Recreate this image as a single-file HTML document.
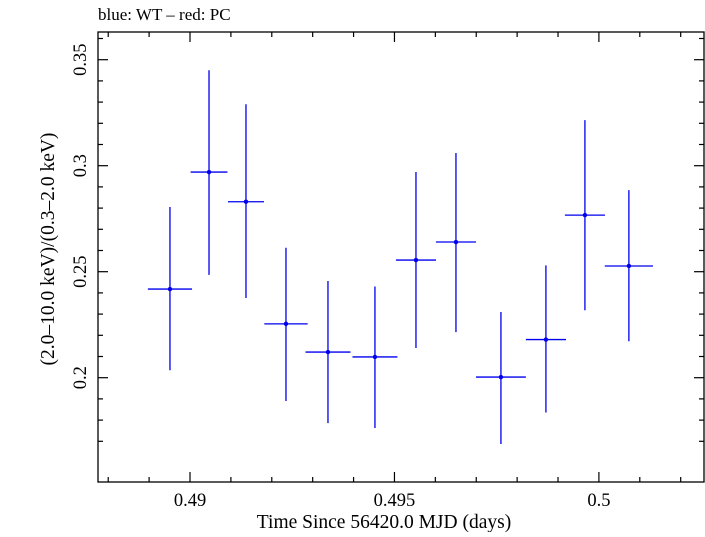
<!DOCTYPE html>
<html><head><meta charset="utf-8"><style>
html,body{margin:0;padding:0;background:#fff;}
svg text{font-family:"Liberation Serif",serif;fill:#000;}
</style></head><body>
<svg id="chart" width="705" height="532" xmlns="http://www.w3.org/2000/svg">
<text x="98" y="20" font-size="17">blue: WT – red: PC</text>
<rect x="98" y="32" width="606" height="450" fill="none" stroke="#000" stroke-width="1.3"/>
<g id="ticks"></g>
<g id="marks"></g>
<text x="384" y="528" font-size="19.5" text-anchor="middle">Time Since 56420.0 MJD (days)</text>
<text transform="translate(54,249) rotate(-90)" font-size="19.5" text-anchor="middle">(2.0–10.0 keV)/(0.3–2.0 keV)</text>
</svg>
<script>
const times=[0.48951,0.490465,0.491369,0.492347,0.493374,0.494523,0.495526,0.496504,0.497604,0.498704,0.499658,0.500733];
const timeHalfWidths=[0.00054,0.00045,0.00044,0.00053,0.00055,0.00055,0.00049,0.00049,0.00061,0.00049,0.00049,0.00059];
const ratios=[0.2418,0.297,0.283,0.2254,0.2121,0.2098,0.2555,0.264,0.2003,0.218,0.2767,0.2527];
const ratioUpper=[0.2805,0.345,0.329,0.2613,0.2456,0.243,0.297,0.306,0.231,0.253,0.3215,0.2885];
const ratioLower=[0.2035,0.2485,0.2376,0.189,0.1786,0.1763,0.214,0.2215,0.1687,0.1836,0.2318,0.2172];
const xTickLabels=["0.49","0.495","0.5"];
const yTickLabels=["0.2","0.25","0.3","0.35"];
const X0=98,X1=704,Y0=32,Y1=482;
const xMin=0.48775,xMax=0.50257;
const yMin=0.2-(482-377.7)/2120, yMax=0.3+(165.7-32)/2120;
function sx(v){return X0+(v-xMin)/(xMax-xMin)*(X1-X0);}
function sy(v){return Y1-(v-yMin)/(yMax-yMin)*(Y1-Y0);}
const NS="http://www.w3.org/2000/svg";
function mk(tag,attrs,parent){const e=document.createElementNS(NS,tag);for(const k in attrs)e.setAttribute(k,attrs[k]);parent.appendChild(e);return e;}
const tg=document.getElementById('ticks');
for(let i=488;i<=502;i++){
  const v=i/1000, x=sx(v), major=(i%5===0), L=major?10:5;
  const t1=mk('line',{x1:x,x2:x,y1:Y1,y2:Y1-L,stroke:'#000','stroke-width':1.2},tg);
  
  
  const t2=mk('line',{x1:x,x2:x,y1:Y0,y2:Y0+L,stroke:'#000','stroke-width':1.2},tg);
  
  
}
xTickLabels.forEach(s=>{
  const t=mk('text',{x:sx(parseFloat(s)),y:Y1+24,'font-size':18.5,'text-anchor':'middle'},tg);
  t.textContent=s;
  
  
});
for(let i=17;i<=36;i++){
  const v=i/100, y=sy(v); if(y<Y0||y>Y1)continue;
  const major=(i%5===0), L=major?10:5;
  const t1=mk('line',{x1:X0,x2:X0+L,y1:y,y2:y,stroke:'#000','stroke-width':1.2},tg);
  
  
  const t2=mk('line',{x1:X1,x2:X1-L,y1:y,y2:y,stroke:'#000','stroke-width':1.2},tg);
  
  
}
yTickLabels.forEach(s=>{
  const y=sy(parseFloat(s));
  const t=mk('text',{transform:`translate(${X0-12},${y}) rotate(-90)`,'font-size':18.5,'text-anchor':'middle'},tg);
  t.textContent=s;
  
  
});
const mg=document.getElementById('marks');
times.forEach((t,i)=>{
  const g=mk('g',{},mg);
  
  
  const x=sx(t), y=sy(ratios[i]);
  mk('line',{x1:sx(t-timeHalfWidths[i]),x2:sx(t+timeHalfWidths[i]),y1:y,y2:y,stroke:'#0000ee','stroke-width':1.3},g);
  mk('line',{x1:x,x2:x,y1:sy(ratioUpper[i]),y2:sy(ratioLower[i]),stroke:'#0000ee','stroke-width':1.3},g);
  mk('circle',{cx:x,cy:y,r:2.2,fill:'#0000ee'},g);
});
</script>
</body></html>
